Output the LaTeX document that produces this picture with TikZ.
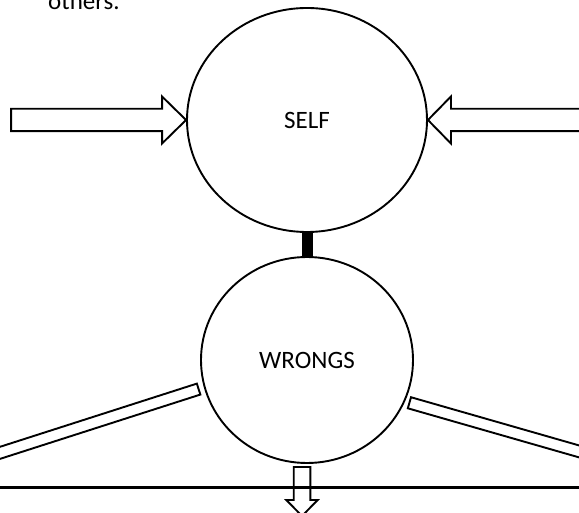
\documentclass[tikz,border=0pt]{standalone}
\usepackage{fontspec}
\setmainfont{Carlito}
\usetikzlibrary{shapes.geometric,calc}
\begin{document}
\begin{tikzpicture}[x=1pt,y=-1pt,
  circ/.style={draw,ellipse,line width=1.9pt,inner sep=0pt,font=\fontsize{25}{30}\selectfont},
  blockarrow/.style={draw,line width=1.9pt,line join=miter},
  barbox/.style={draw,rectangle,line width=1.9pt,inner sep=0pt,minimum width=320pt,minimum height=11.5pt},
  lbl/.style={font=\fontsize{25}{30}\selectfont,inner sep=0pt}]
\useasboundingbox (0,0) rectangle (579,513);
\clip (0,0) rectangle (579,513);
% text cut at the top
\node[lbl,anchor=base west] (others) at (48,10) {others.};
% circles
\node[circ,minimum width=240pt,minimum height=224pt] (self) at (307,120) {SELF};
\node[circ,minimum width=212pt,minimum height=206pt] (wrongs) at (307,360) {WRONGS};
% thick link
\draw[line width=11pt] (self.south) -- (wrongs.north);
% left block arrow
\draw[blockarrow] (self.west) -- ++(-24,-23.5) -- ++(0,12.3) -- ++(-151,0) -- ++(0,22.4)
  -- ++(151,0) -- ++(0,12.3) -- cycle;
% right block arrow
\draw[blockarrow] (self.east) -- ++(23,-23.5) -- ++(0,12.3) -- ++(150,0) -- ++(0,22.4)
  -- ++(-150,0) -- ++(0,12.3) -- cycle;
% diagonal bars
\node[barbox,anchor=east,rotate=17.8] (lbar) at (199.5,388.8) {};
\node[barbox,anchor=west,rotate=-16] (rbar) at (408.5,402.5) {};
% down arrow
\coordinate (dtop) at (302,467);
\draw[blockarrow] (dtop) ++(-8.3,0) -- ++(0,33) -- ++(-7.4,0) -- ++(15.7,16) -- ++(15.7,-16)
  -- ++(-7.4,0) -- ++(0,-33) -- cycle;
% horizontal line
\coordinate (hl) at (0,487.7);
\coordinate (hr) at (579,487.7);
\draw[line width=2.8pt] (hl) -- (hr);
\end{tikzpicture}
\end{document}
